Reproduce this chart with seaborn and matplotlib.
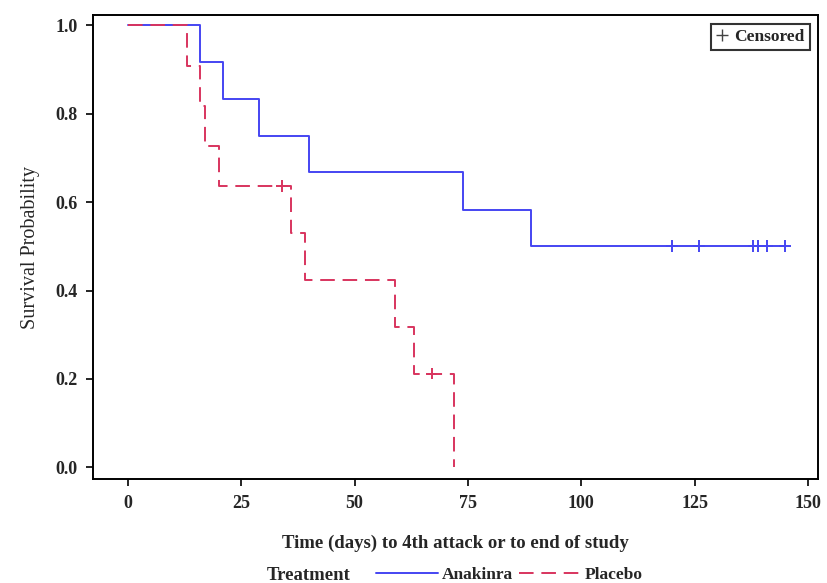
import numpy as np
import pandas as pd
import matplotlib
matplotlib.use("Agg")
import matplotlib.pyplot as plt
from matplotlib.lines import Line2D
import seaborn as sns

# ---- data ----
anakinra_time = [0, 16, 21, 29, 40, 74, 89, 145]
anakinra_surv = [1.0, 0.917, 0.833, 0.750, 0.667, 0.583, 0.500, 0.500]
anakinra_cens_time = [120, 126, 138, 139, 141, 145]
anakinra_cens_surv = [0.5, 0.5, 0.5, 0.5, 0.5, 0.5]

placebo_time = [0, 13, 16, 17, 20, 36, 39, 59, 63, 72]
placebo_surv = [1.0, 0.909, 0.818, 0.727, 0.636, 0.530, 0.424, 0.318, 0.212, 0.0]
placebo_cens_time = [34, 67]
placebo_cens_surv = [0.636, 0.212]

x_ticks = [0, 25, 50, 75, 100, 125, 150]
y_ticks = [0.0, 0.2, 0.4, 0.6, 0.8, 1.0]

BLUE = "#4545f2"
RED = "#d8345e"

sns.set_theme(style="white")
plt.rcParams["font.family"] = ["Liberation Serif", "DejaVu Serif"]

curves = pd.concat([
    pd.DataFrame({"time": anakinra_time, "surv": anakinra_surv, "Treatment": "Anakinra"}),
    pd.DataFrame({"time": placebo_time, "surv": placebo_surv, "Treatment": "Placebo"}),
], ignore_index=True)
cens = pd.concat([
    pd.DataFrame({"time": anakinra_cens_time, "surv": anakinra_cens_surv, "Treatment": "Anakinra"}),
    pd.DataFrame({"time": placebo_cens_time, "surv": placebo_cens_surv, "Treatment": "Placebo"}),
], ignore_index=True)

fig = plt.figure(figsize=(8.27, 5.83), dpi=100)
ax = fig.add_axes([0.1125, 0.178, 0.877, 0.796])

palette = {"Anakinra": BLUE, "Placebo": RED}
sns.lineplot(data=curves, x="time", y="surv", hue="Treatment", style="Treatment",
             palette=palette, dashes={"Anakinra": "", "Placebo": (7.5, 4)},
             drawstyle="steps-post", linewidth=1.4, estimator=None, sort=False,
             legend=False, ax=ax)
sns.scatterplot(data=cens, x="time", y="surv", hue="Treatment", palette=palette,
                marker="+", s=70, linewidth=1.4, legend=False, ax=ax)

ax.set_xlim(-7.7, 152.3)
ax.set_ylim(-0.027, 1.023)
ax.set_xticks(x_ticks)
ax.set_yticks(y_ticks)
ax.set_xticklabels([str(t) for t in x_ticks], fontsize=13, fontweight="bold")
ax.set_yticklabels([f"{t:.1f}" for t in y_ticks], fontsize=13, fontweight="bold")
ax.tick_params(axis="both", which="both", direction="out", length=5, width=1.2,
               color="black", bottom=True, left=True)
ax.tick_params(axis="y", pad=6)
ax.tick_params(axis="x", pad=6)
for sp in ax.spines.values():
    sp.set_color("black")
    sp.set_linewidth(1.4)

ax.set_xlabel("Time (days) to 4th attack or to end of study", fontsize=13.5,
              fontweight="bold", labelpad=17)
ax.set_ylabel("Survival Probability", fontsize=14.5, labelpad=11)

cens_handle = Line2D([], [], color="#444444", marker="+", linestyle="none",
                     markersize=8, markeredgewidth=1.0)
leg = ax.legend([cens_handle], ["Censored"], loc="upper right", frameon=True,
                fancybox=False, edgecolor="black",
                handlelength=0.7, handletextpad=0.35, borderpad=0.3,
                borderaxespad=0.5, prop={"family": ["Liberation Serif"], "size": 12.5, "weight": "bold"})
leg.get_frame().set_linewidth(1.5)

fig.text(267 / 827, 1 - 575 / 583, "Treatment", fontsize=13.5, fontweight="bold",
         ha="left", va="center")
h1 = Line2D([], [], color=BLUE, linewidth=1.4)
h2 = Line2D([], [], color=RED, linewidth=1.4, dashes=(7.5, 4))
fig.legend([h1, h2], ["Anakinra", "Placebo"], loc="center left",
           bbox_to_anchor=(360 / 827, 1 - 575 / 583), ncol=2, frameon=False,
           handlelength=3.6, handletextpad=0.2, columnspacing=0.35,
           prop={"family": ["Liberation Serif"], "size": 12.5, "weight": "bold"})

fig.savefig("out.png", dpi=100)
